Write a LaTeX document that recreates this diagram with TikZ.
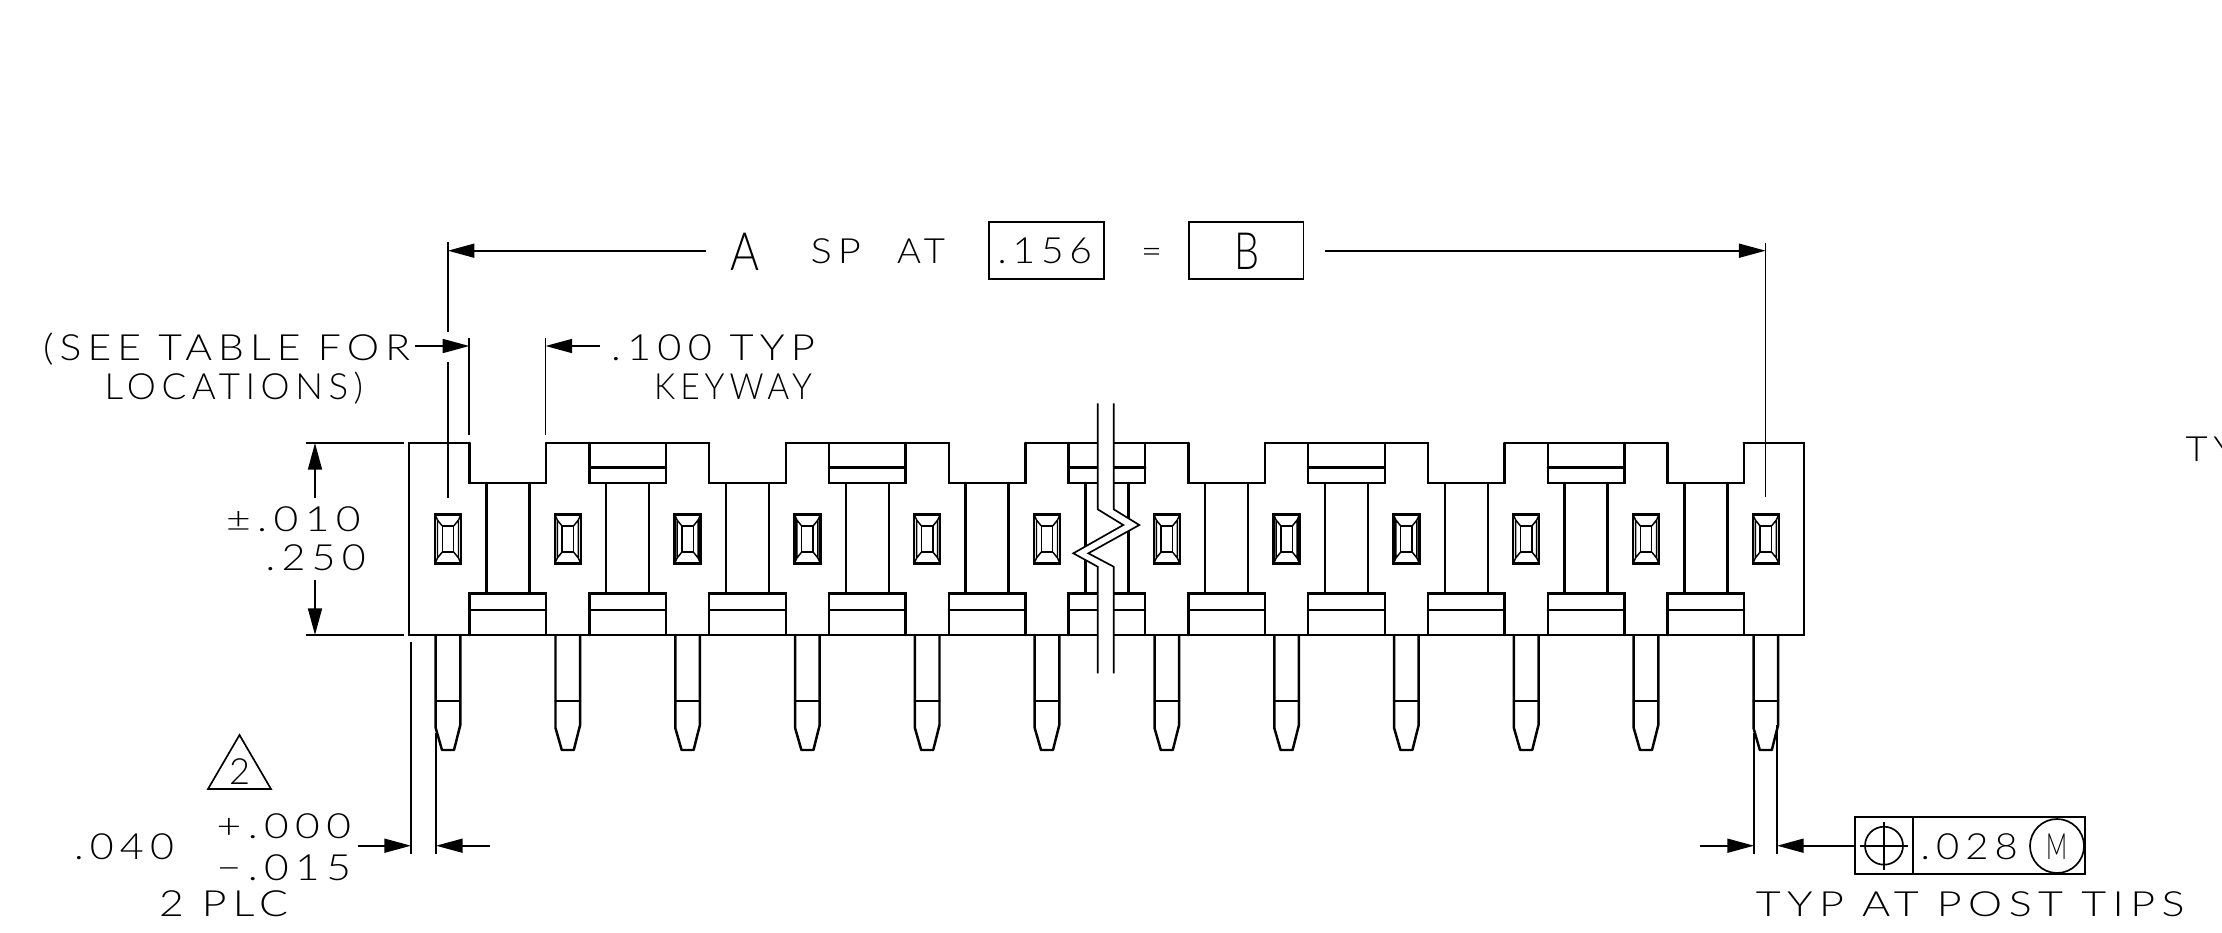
\documentclass[tikz,border=0pt]{standalone}
\usepackage{graphicx}
\usepackage{fontspec}
\setmainfont[LetterSpace=15]{Lato Light}
\usetikzlibrary{arrows.meta}
\tikzset{
 x=0.75pt,y=-0.75pt,
 heavy/.style={line width=1.85pt,line cap=round,line join=miter},
 thin line/.style={line width=1.25pt},
 dim tip/.style={-{Triangle[length=20pt,width=10.5pt]}},
 cad/.style={inner sep=0pt,outer sep=0pt,anchor=south west}
}
% name, x1, x2, ytop, ybot, text
\newcommand{\cadtext}[6]{%
 \pgfmathsetlengthmacro{\cw}{(#3-#2)*0.75pt}%
 \pgfmathsetlengthmacro{\ch}{(#5-#4)*0.75pt}%
 \node[cad] (#1) at (#2,#5) {\resizebox{\cw}{\ch}{\rule{0pt}{7.2pt}\smash{#6}}};}
\begin{document}
\begin{tikzpicture}
\useasboundingbox (0,0) rectangle (2222,932);
% body outer
\draw[heavy] (469.6,443) -- (409,443) -- (409,635) -- (1804,635) -- (1804,443) -- (1743.6,443);
\foreach \i in {0,...,10}{
  \pgfmathsetmacro{\c}{448+119.8*(\i+0.5)}
  \pgfmathsetmacro{\l}{\c-38.3}
  \pgfmathsetmacro{\r}{\c+38.3}
  \pgfmathsetmacro{\il}{\c-21.5}
  \pgfmathsetmacro{\ir}{\c+21.5}
  \draw[heavy] (\l,443) -- (\l,483) -- (\r,483) -- (\r,443);
  \draw[heavy] (\il,483) -- (\il,593.3) (\ir,483) -- (\ir,593.3);
  \draw[heavy] (\l,635) -- (\l,593.3) -- (\r,593.3) -- (\r,635);
  \draw[heavy] (\l,610) -- (\r,610);
  \pgfmathparse{int(mod(\i,2))}
  \ifnum\pgfmathresult=1
    \draw[heavy] (\l,443) -- (\r,443);
    \draw[heavy] (\l,467.7) -- (\r,467.7);
    \pgfmathsetmacro{\pl}{\c-119.8+38.3}
    \pgfmathsetmacro{\pr}{\c-38.3}
    \draw[heavy] (\pl,443) -- (\pr,443);
    \pgfmathsetmacro{\pl}{\c+38.3}
    \pgfmathsetmacro{\pr}{\c+119.8-38.3}
    \draw[heavy] (\pl,443) -- (\pr,443);
  \fi
}
% pins and slots
\foreach \i in {0,...,11}{
  \pgfmathsetmacro{\c}{448+119.8*\i}
  \pgfmathsetmacro{\a}{\c-12.3}
  \pgfmathsetmacro{\b}{\c+12.3}
  \pgfmathsetmacro{\ta}{\c-6}
  \pgfmathsetmacro{\tb}{\c+6}
  \draw[heavy,line join=round] (\a,635) -- (\a,728) -- (\ta,750) -- (\tb,750) -- (\b,725) -- (\b,635);
  \draw[heavy] (\a,701) -- (\b,701);
  \pgfmathsetmacro{\sa}{\c-13}
  \pgfmathsetmacro{\sb}{\c+13}
  \pgfmathsetmacro{\na}{\c-10.5}
  \pgfmathsetmacro{\nb}{\c+10.5}
  \pgfmathsetmacro{\ia}{\c-5.7}
  \pgfmathsetmacro{\ib}{\c+5.7}
  \draw[heavy] (\sa,514.6) rectangle (\sb,563.4);
  \draw[line width=1.1pt] (\na,520) -- (\na,558) (\nb,520) -- (\nb,558)
     (\sa,514.6) -- (\na,520) -- (\ia,526) (\sb,514.6) -- (\nb,520) -- (\ib,526)
     (\sa,563.4) -- (\na,558) -- (\ia,552) (\sb,563.4) -- (\nb,558) -- (\ib,552);
  \draw[line width=1.1pt] (\ia,526) rectangle (\ib,552);
}
% break
\fill[white] (1097.7,403) -- (1097.7,509.3) -- (1123.3,525) -- (1073.3,553.3) -- (1097.7,566.7) -- (1097.7,673.3)
  -- (1113.7,673.3) -- (1113.7,566.7) -- (1088.3,553.3) -- (1139.3,525) -- (1113.7,509.3) -- (1113.7,403) -- cycle;
\draw[thin line] (1097.7,403.3) -- (1097.7,509.3) -- (1123.3,525) -- (1073.3,553.3) -- (1097.7,566.7) -- (1097.7,673.3);
\draw[thin line] (1113.7,403.3) -- (1113.7,509.3) -- (1139.3,525) -- (1088.3,553.3) -- (1113.7,566.7) -- (1113.7,673.3);
% extension lines
\draw[thin line] (447.8,242) -- (447.8,331.7) (447.8,361.7) -- (447.8,497.7);
\draw[thin line] (469.3,338) -- (469.3,435) (545.5,338) -- (545.5,435);
\draw[thin line] (1765.6,242.7) -- (1765.6,497);
\draw[thin line] (306,443) -- (404,443) (306,635) -- (404,635);
\draw[thin line] (411,641.7) -- (411,854) (436,733) -- (436,854);
\draw[thin line] (1754,733) -- (1754,854) (1777,725) -- (1777,854);
% dimension arrows
\draw[thin line,dim tip] (706,250.7) -- (447.8,250.7);
\draw[thin line,dim tip] (1324.8,250.7) -- (1765.6,250.7);
\draw[thin line,dim tip] (414.5,346) -- (469.3,346);
\draw[thin line,dim tip] (600,346) -- (545.5,346);
\draw[thin line,dim tip] (315,497.7) -- (315,443);
\draw[thin line,dim tip] (315,580) -- (315,635);
\draw[thin line,dim tip] (357.7,845.7) -- (411,845.7);
\draw[thin line,dim tip] (490,845.7) -- (436,845.7);
\draw[thin line,dim tip] (1700,845.7) -- (1754,845.7);
\draw[thin line,dim tip] (1855,845.7) -- (1777,845.7);
% boxes
\draw[thin line] (989,221.7) rectangle (1103.8,279);
\draw[thin line] (1188.8,221.7) rectangle (1303.6,279);
\draw[thin line] (1855,816.7) rectangle (2085,874.3);
\draw[thin line] (1912.7,816.7) -- (1912.7,874.3);
\draw[thin line] (1884,845.7) circle[radius=19];
\draw[thin line] (1860,845.7) -- (1908,845.7) (1884,821.7) -- (1884,870);
\draw[thin line] (2057,846) circle[radius=27];
\draw[thin line] (208,789) -- (239.5,735) -- (271,789) -- cycle;
% texts
\cadtext{t1}{43}{410}{334}{360}{(SEE TABLE FOR}
\cadtext{t2}{104.5}{363}{373}{399}{LOCATIONS)}
\cadtext{t3}{611}{815}{334}{360}{.100 TYP}
\cadtext{t4}{654}{812}{373}{399}{KEYWAY}
\cadtext{t5}{730}{759}{232}{270}{A}
\cadtext{t6}{810.6}{861}{238}{263}{SP}
\cadtext{t7}{897}{945}{238}{263}{AT}
\cadtext{t8}{997.6}{1092}{237}{263}{.156}
\cadtext{t9}{1141}{1162}{238}{263}{=}
\cadtext{t10}{1234}{1259}{232}{269}{B}
\cadtext{t11}{226}{360.7}{506}{531}{±.010}
\cadtext{t12}{265.7}{365.7}{544}{570}{.250}
\cadtext{t13}{74}{174}{833}{859}{.040}
\cadtext{t14}{216.7}{351}{813}{838}{+.000}
\cadtext{t15}{216.7}{351}{854}{880}{−.015}
\cadtext{t16}{159}{288}{890}{916}{2 PLC}
\cadtext{t17}{229}{250}{758}{784}{2}
\cadtext{t18}{1920.7}{2017.7}{833}{859}{.028}
\cadtext{t19}{2046}{2067}{833}{859}{M}
\cadtext{t20}{1755.8}{2184.5}{891.7}{916.7}{TYP AT POST TIPS}
\cadtext{t21}{2185.6}{2236}{436}{461}{TY}
\end{tikzpicture}
\end{document}
